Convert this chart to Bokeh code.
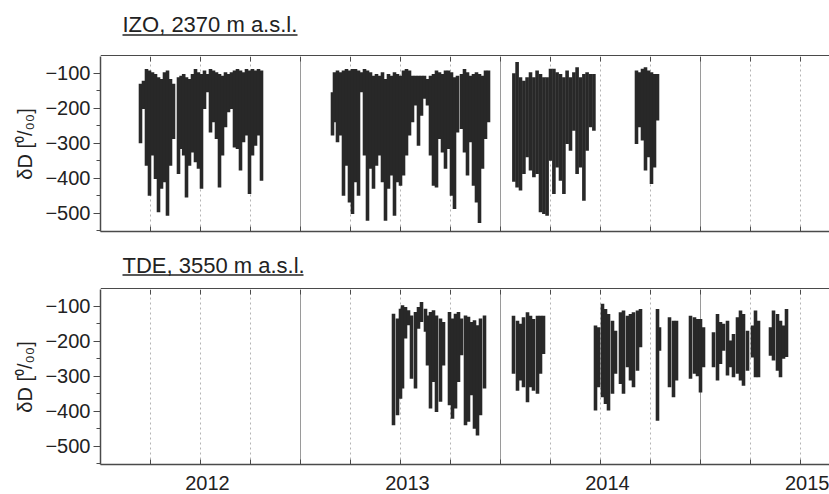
from bokeh.plotting import figure
from bokeh.layouts import column
from bokeh.models import (Range1d, FixedTicker, Grid, CustomJSTickFormatter)
from bokeh.core.properties import value
from bokeh.embed import file_html
from bokeh.resources import INLINE

# ---------------------------------------------------------------------------
# Water vapour dD at Izana (IZO) and Teide (TDE): envelope of the dense
# in-situ record, one column per ~5-day slot (time in decimal years,
# upper and lower edge of the scatter in permil).
# ---------------------------------------------------------------------------
izo_year = [
    2012.200, 2012.215, 2012.230, 2012.245, 2012.260, 2012.275, 2012.290, 2012.305,
    2012.320, 2012.335, 2012.350, 2012.365, 2012.390, 2012.403, 2012.416, 2012.430,
    2012.445, 2012.460, 2012.475, 2012.490, 2012.505, 2012.520, 2012.535, 2012.550,
    2012.565, 2012.580, 2012.595, 2012.610, 2012.625, 2012.640, 2012.655, 2012.670,
    2012.685, 2012.700, 2012.715, 2012.730, 2012.745, 2012.760, 2012.775, 2012.790,
    2012.805,
    2013.160, 2013.170, 2013.185, 2013.200, 2013.215, 2013.230, 2013.245, 2013.260,
    2013.275, 2013.290, 2013.305, 2013.320, 2013.335, 2013.350, 2013.365, 2013.380,
    2013.395, 2013.410, 2013.425, 2013.440, 2013.455, 2013.470, 2013.485, 2013.500,
    2013.515, 2013.530, 2013.545, 2013.560, 2013.575, 2013.590, 2013.605, 2013.620,
    2013.635, 2013.650, 2013.665, 2013.680, 2013.695, 2013.710, 2013.725, 2013.740,
    2013.755, 2013.770, 2013.785, 2013.805, 2013.820, 2013.835, 2013.850, 2013.865,
    2013.880, 2013.895, 2013.910, 2013.925, 2013.940,
    2014.067, 2014.083, 2014.100, 2014.117, 2014.133, 2014.150, 2014.167, 2014.183,
    2014.200, 2014.217, 2014.233, 2014.250, 2014.267, 2014.283, 2014.300, 2014.317,
    2014.333, 2014.350, 2014.367, 2014.383, 2014.400, 2014.417, 2014.433, 2014.450,
    2014.467,
    2014.680, 2014.695, 2014.710, 2014.725, 2014.740, 2014.755, 2014.770, 2014.785,
]
izo_high = [
    -130, -121, -88, -92, -97, -102, -111, -116,
    -97, -92, -116, -130, -111, -107, -102, -111,
    -116, -102, -88, -97, -102, -92, -102, -88,
    -92, -97, -102, -107, -97, -102, -97, -92,
    -88, -92, -97, -88, -92, -88, -92, -88,
    -92,
    -154, -97, -92, -97, -92, -88, -92, -88,
    -88, -92, -97, -88, -92, -97, -107, -102,
    -107, -97, -116, -102, -107, -97, -102, -107,
    -92, -88, -92, -107, -107, -107, -107, -107,
    -116, -107, -102, -92, -97, -102, -92, -92,
    -97, -111, -107, -102, -88, -97, -107, -102,
    -97, -102, -107, -92, -92,
    -100, -68, -111, -121, -111, -97, -111, -92,
    -102, -111, -111, -87, -87, -97, -102, -111,
    -92, -111, -97, -83, -111, -102, -97, -102,
    -102,
    -92, -97, -87, -83, -92, -97, -102, -102,
]
izo_low = [
    -300, -202, -364, -450, -335, -402, -497, -430,
    -411, -507, -364, -288, -388, -316, -335, -455,
    -364, -326, -354, -373, -430, -202, -154, -269,
    -240, -288, -426, -335, -254, -211, -202, -312,
    -316, -378, -297, -278, -445, -335, -307, -278,
    -407,
    -278, -240, -297, -278, -450, -364, -469, -502,
    -411, -450, -154, -335, -521, -373, -430, -364,
    -335, -411, -521, -430, -392, -507, -411, -421,
    -392, -335, -278, -240, -192, -307, -221, -173,
    -192, -335, -421, -426, -288, -326, -373, -316,
    -450, -488, -269, -259, -326, -392, -297, -421,
    -469, -528, -373, -288, -240,
    -410, -426, -435, -388, -340, -378, -397, -388,
    -497, -502, -507, -350, -445, -369, -407, -445,
    -302, -321, -264, -388, -369, -464, -321, -254,
    -264,
    -302, -254, -292, -378, -340, -416, -369, -235,
]

tde_year = [
    2013.465, 2013.485, 2013.500, 2013.510, 2013.525, 2013.540, 2013.555, 2013.575,
    2013.590, 2013.605, 2013.625, 2013.635, 2013.650, 2013.665, 2013.680, 2013.700,
    2013.715, 2013.745, 2013.760, 2013.775, 2013.790, 2013.805, 2013.825, 2013.840,
    2013.855, 2013.870, 2013.885, 2013.900, 2013.920,
    2014.065, 2014.085, 2014.100, 2014.115, 2014.135, 2014.150, 2014.165, 2014.185,
    2014.200, 2014.215,
    2014.475, 2014.490, 2014.510, 2014.525, 2014.540, 2014.560, 2014.575, 2014.600,
    2014.615, 2014.635, 2014.650, 2014.665, 2014.685, 2014.700,
    2014.785, 2014.795, 2014.845, 2014.865, 2014.880, 2014.950, 2014.970, 2014.985,
    2015.000, 2015.015, 2015.065, 2015.085, 2015.100, 2015.115, 2015.135, 2015.150,
    2015.165, 2015.185, 2015.200, 2015.215, 2015.235, 2015.260, 2015.275, 2015.290,
    2015.350, 2015.365, 2015.385, 2015.400, 2015.415, 2015.430,
]
tde_high = [
    -121, -135, -107, -97, -102, -111, -126, -116,
    -102, -88, -107, -126, -116, -111, -126, -135,
    -145, -116, -135, -121, -116, -135, -126, -130,
    -145, -140, -154, -135, -126,
    -127, -141, -150, -131, -117, -127, -136, -127,
    -127, -127,
    -155, -160, -93, -108, -122, -141, -170, -117,
    -112, -127, -122, -117, -112, -108,
    -108, -160, -131, -141, -141, -127, -131, -136,
    -136, -160, -174, -122, -145, -150, -141, -198,
    -179, -131, -112, -122, -170, -155, -112, -141,
    -160, -112, -122, -141, -155, -108,
]
tde_low = [
    -440, -411, -364, -335, -192, -154, -307, -335,
    -164, -145, -173, -269, -392, -316, -402, -373,
    -269, -383, -421, -392, -316, -240, -440, -430,
    -354, -450, -469, -411, -335,
    -293, -341, -312, -331, -374, -331, -341, -350,
    -293, -236,
    -398, -331, -360, -379, -398, -350, -293, -322,
    -350, -274, -312, -331, -284, -217,
    -427, -227, -331, -360, -312, -307, -293, -300,
    -346, -274, -274, -312, -265, -227, -298, -274,
    -303, -293, -312, -327, -284, -246, -303, -303,
    -241, -255, -284, -303, -250, -245,
]

# axis furniture
X_START, X_END = 2012.0, 2015.645
Y_BOT, Y_TOP = -552.0, -52.0
WIDTH = 829
LEFT = 100
FRAME_H = 175
PX = (Y_TOP - Y_BOT) / FRAME_H          # data units per screen pixel

year_starts = [2013.0, 2014.0, 2015.0]
quarter_marks = [2012.25, 2012.5, 2012.75, 2013.0, 2013.25, 2013.5, 2013.75,
                 2014.0, 2014.25, 2014.5, 2014.75, 2015.0, 2015.25, 2015.5]
year_label_at = [2012.535, 2013.535, 2014.535, 2015.535]   # labels sit mid-year
dD_ticks = [-500, -400, -300, -200, -100]
dD_minor = [-550, -450, -350, -250, -150]

FONT = "Liberation Sans"
INK = "#222222"
FRAME = "#4a4a4a"


def style_time_axis(ax, labelled):
    # quarter ticks point inwards; the (tickless) majors only carry the year text
    ax.ticker = FixedTicker(ticks=year_label_at, minor_ticks=quarter_marks)
    ax.axis_line_color = FRAME
    ax.axis_line_width = 1.5
    ax.major_tick_in = 0
    ax.major_tick_out = 0
    ax.minor_tick_in = 5
    ax.minor_tick_out = 0
    ax.minor_tick_line_color = FRAME
    if labelled:
        ax.formatter = CustomJSTickFormatter(code="return String(Math.floor(tick));")
        ax.major_label_text_font = FONT
        ax.major_label_text_font_size = "20px"
        ax.major_label_text_color = INK
        ax.major_label_standoff = 11
    else:
        ax.major_label_text_color = None
        ax.major_label_text_font_size = "5px"
        ax.major_label_standoff = 0


def make_title(text, height, mid_y, line_y, line_x1):
    """Strip above a panel (x and y in page pixels, y counted downwards):
    the underlined station name, and along its bottom edge the top side
    of the panel frame."""
    t = figure(width=WIDTH, height=height, x_range=Range1d(LEFT, WIDTH),
               y_range=Range1d(height, 0),
               min_border_left=LEFT, min_border_right=0,
               min_border_top=0, min_border_bottom=0,
               x_axis_location=None, y_axis_location=None,
               output_backend="svg", toolbar_location=None)
    t.outline_line_color = None
    t.grid.visible = False
    t.text(x=[122], y=[mid_y], text=[text], text_font=value(FONT),
           text_font_size=value("22px"), text_color=value(INK),
           text_align=value("left"), text_baseline=value("middle"))
    t.segment(x0=[122, LEFT], x1=[line_x1, WIDTH],
              y0=[line_y, height - 0.8], y1=[line_y, height - 0.8],
              line_color=[INK, FRAME], line_width=[1.5, 1.6])
    return t


def make_panel(t, hi, lo, labelled, height, border_bottom):
    p = figure(width=WIDTH, height=height,
               x_range=Range1d(X_START, X_END), y_range=Range1d(Y_BOT, Y_TOP),
               min_border_left=LEFT, min_border_right=0,
               min_border_top=0, min_border_bottom=border_bottom,
               output_backend="svg", toolbar_location=None)
    p.outline_line_color = None

    # dotted quarter lines, solid lines at the turn of each year
    p.ygrid.visible = False
    p.xgrid.ticker = FixedTicker(ticks=[q for q in quarter_marks if q not in year_starts])
    p.xgrid.grid_line_color = "#b4b4b4"
    p.xgrid.grid_line_dash = "2 3"
    p.xgrid.grid_line_width = 1
    p.add_layout(Grid(dimension=0, ticker=FixedTicker(ticks=year_starts),
                      grid_line_color="#9a9a9a", grid_line_width=1))

    p.vbar(x=t, bottom=lo, top=hi, width=0.018, color="#282828", line_color=None)

    # inward quarter ticks hanging from the top edge
    p.segment(x0=quarter_marks, x1=quarter_marks,
              y0=[Y_TOP] * len(quarter_marks),
              y1=[Y_TOP - 5 * PX] * len(quarter_marks),
              line_color=FRAME, line_width=1)

    style_time_axis(p.xaxis[0], labelled)

    ya = p.yaxis[0]
    ya.ticker = FixedTicker(ticks=dD_ticks, minor_ticks=dD_minor)
    ya.axis_line_color = FRAME
    ya.axis_line_width = 1.5
    ya.major_tick_out = 7
    ya.major_tick_in = 0
    ya.minor_tick_out = 4
    ya.minor_tick_in = 0
    ya.major_tick_line_color = FRAME
    ya.minor_tick_line_color = FRAME
    ya.major_label_text_font = FONT
    ya.major_label_text_font_size = "20px"
    ya.major_label_text_color = INK
    ya.major_label_standoff = 3
    ya.axis_label = "δD [⁰/₀₀]"
    ya.axis_label_text_font = FONT
    ya.axis_label_text_font_size = "20px"
    ya.axis_label_text_font_style = "normal"
    ya.axis_label_text_color = INK
    ya.axis_label_standoff = 6
    return p


t_izo = make_title("IZO, 2370 m a.s.l.", 56, 24.0, 34.5, 297)
p_izo = make_panel(izo_year, izo_high, izo_low, False, 183, 8)
t_tde = make_title("TDE, 3550 m a.s.l.", 50, 25.6, 35.5, 303)
p_tde = make_panel(tde_year, tde_high, tde_low, True, 205, 30)

p = column(t_izo, p_izo, t_tde, p_tde, spacing=0)
open("out.html", "w").write(file_html(p, INLINE))
